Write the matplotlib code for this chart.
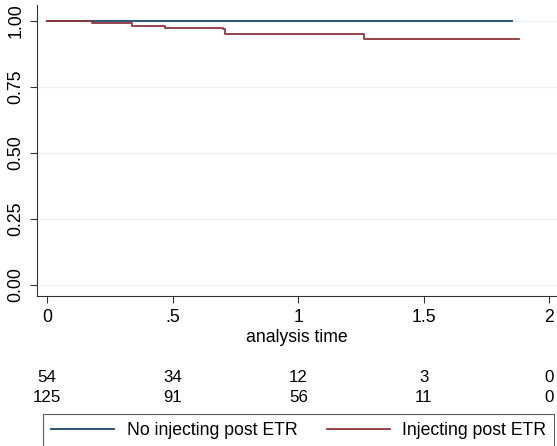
import matplotlib.pyplot as plt
from matplotlib.transforms import blended_transform_factory

plt.rcParams['font.family'] = ['Liberation Sans', 'DejaVu Sans']

# Kaplan-Meier step estimates
t_no = [0.0, 1.85]
s_no = [1.0, 1.0]
t_inj = [0.0, 0.18, 0.34, 0.47, 0.70, 0.71, 1.26, 1.88]
s_inj = [1.0, 0.992, 0.982, 0.974, 0.969, 0.951, 0.931, 0.931]

# number at risk table
risk_times = [0, 0.5, 1, 1.5, 2]
risk_no = [54, 34, 12, 3, 0]
risk_inj = [125, 91, 56, 11, 0]

xticks = [0, 0.5, 1, 1.5, 2]
xtick_labels = ['0', '.5', '1', '1.5', '2']
yticks = [0, 0.25, 0.5, 0.75, 1.0]
ytick_labels = ['0.00', '0.25', '0.50', '0.75', '1.00']

NAVY = '#1a476f'
MAROON = '#90353b'

W, H = 557, 446
fig = plt.figure(figsize=(W / 100, H / 100), dpi=100)
ax = fig.add_axes([37 / W, 1 - 296 / H, 1 - 37 / W, (296 - 5) / H])

ax.step(t_no, s_no, where='post', color=NAVY, lw=1.3, label='No injecting post ETR')
ax.step(t_inj, s_inj, where='post', color=MAROON, lw=1.3, label='Injecting post ETR')

ax.set_xlim(-0.04, 2.03)
ax.set_ylim(-0.042, 1.0 + 16 / 264)
ax.set_xticks(xticks)
ax.set_xticklabels(xtick_labels)
ax.set_yticks(yticks)
ax.set_yticklabels(ytick_labels, rotation=90, va='center')
ax.tick_params(labelsize=12.7, length=5, width=0.8, color='#333333')
ax.tick_params(axis='x', pad=4)
ax.tick_params(axis='y', pad=4)
ax.grid(axis='y', color='#eaf2f3', lw=1)
ax.set_axisbelow(True)
for side in ['top', 'right']:
    ax.spines[side].set_visible(False)
for side in ['left', 'bottom']:
    ax.spines[side].set_color('#333333')
    ax.spines[side].set_linewidth(0.8)
ax.set_xlabel('analysis time', fontsize=12.7, labelpad=2.5)

# risk table
tr = blended_transform_factory(ax.transData, fig.transFigure)
for x, a, b in zip(risk_times, risk_no, risk_inj):
    ax.text(x, 1 - 378 / H, str(a), transform=tr, ha='center', va='center', fontsize=12.2)
    ax.text(x, 1 - 398 / H, str(b), transform=tr, ha='center', va='center', fontsize=12.2)

leg = fig.legend(loc='upper left', ncol=2,
                 bbox_to_anchor=(43 / W, 1 - 414 / H),
                 fontsize=12.7, frameon=True, fancybox=False,
                 handlelength=3.6, handletextpad=0.7, columnspacing=1.65,
                 borderpad=0.45, borderaxespad=0)
leg.get_frame().set_edgecolor('#333333')
leg.get_frame().set_linewidth(0.8)

fig.savefig('out.png', dpi=100)
